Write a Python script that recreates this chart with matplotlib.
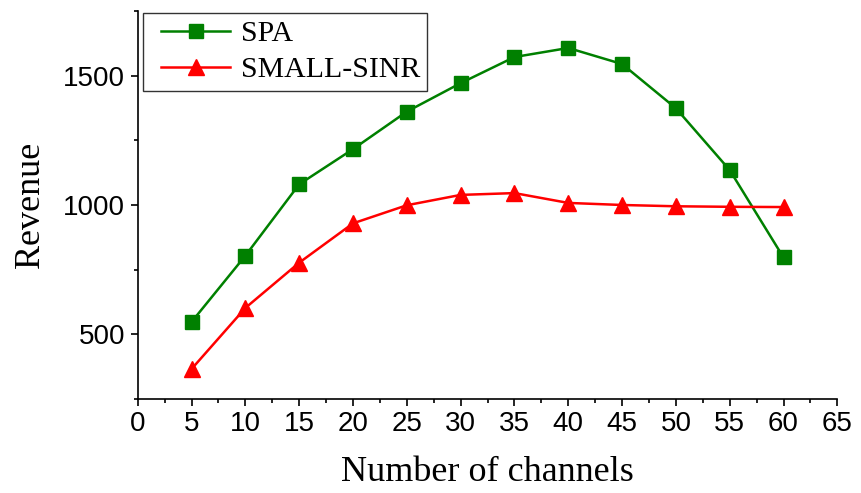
import numpy as np
import matplotlib.pyplot as plt
from matplotlib.ticker import MultipleLocator
from matplotlib.legend_handler import HandlerLine2D

# revenue versus number of channels
channels = [5, 10, 15, 20, 25, 30, 35, 40, 45, 50, 55, 60]
spa = [548, 804, 1080, 1216, 1361, 1471, 1572, 1607, 1545, 1374, 1135, 797]
small_sinr = [366, 602, 777, 929, 999, 1039, 1046, 1008, 1000, 995, 993, 992]

xticks = np.arange(0, 70, 5)
yticks = [500, 1000, 1500]

plt.rcParams['font.family'] = 'Liberation Sans'

fig = plt.figure(figsize=(8.61, 4.93), dpi=100)
ax = fig.add_axes([0.16, 0.1907, 0.8125, 0.787])

l1, = ax.plot(channels, spa, color='#008000', lw=1.8, marker='s', ms=10,
              label='SPA')
l2, = ax.plot(channels, small_sinr, color='#ff0000', lw=1.8, marker='^', ms=12,
              label='SMALL-SINR')

ax.set_xlim(0, 65)
ax.set_ylim(250, 1750)
ax.set_xticks(xticks)
ax.set_yticks(yticks)
ax.xaxis.set_minor_locator(MultipleLocator(2.5))
ax.yaxis.set_minor_locator(MultipleLocator(250))

for s in ['top', 'right']:
    ax.spines[s].set_visible(False)
for s in ['left', 'bottom']:
    ax.spines[s].set_linewidth(1.2)
ax.tick_params(which='major', direction='out', length=5, width=1.2,
               labelsize=20, pad=4)
ax.tick_params(which='minor', direction='out', length=3, width=1.2)

ax.set_xlabel('Number of channels', family='Liberation Serif', fontsize=26,
              labelpad=13)
ax.set_ylabel('Revenue', family='Liberation Serif', fontsize=26,
              labelpad=12)

# shift the legend handles right a little
hmap = {l1: HandlerLine2D(xpad=0.37), l2: HandlerLine2D(xpad=0.37)}
leg = ax.legend(handler_map=hmap, loc='upper left',
                prop={'family': 'Liberation Serif', 'size': 21.5},
                frameon=True, fancybox=False, edgecolor='black',
                handlelength=2.68, handletextpad=0.35, borderpad=0.25,
                labelspacing=0.3, borderaxespad=0,
                bbox_to_anchor=(0.007, 0.995))
leg.get_frame().set_linewidth(1.0)

fig.savefig('out.png', dpi=100)
